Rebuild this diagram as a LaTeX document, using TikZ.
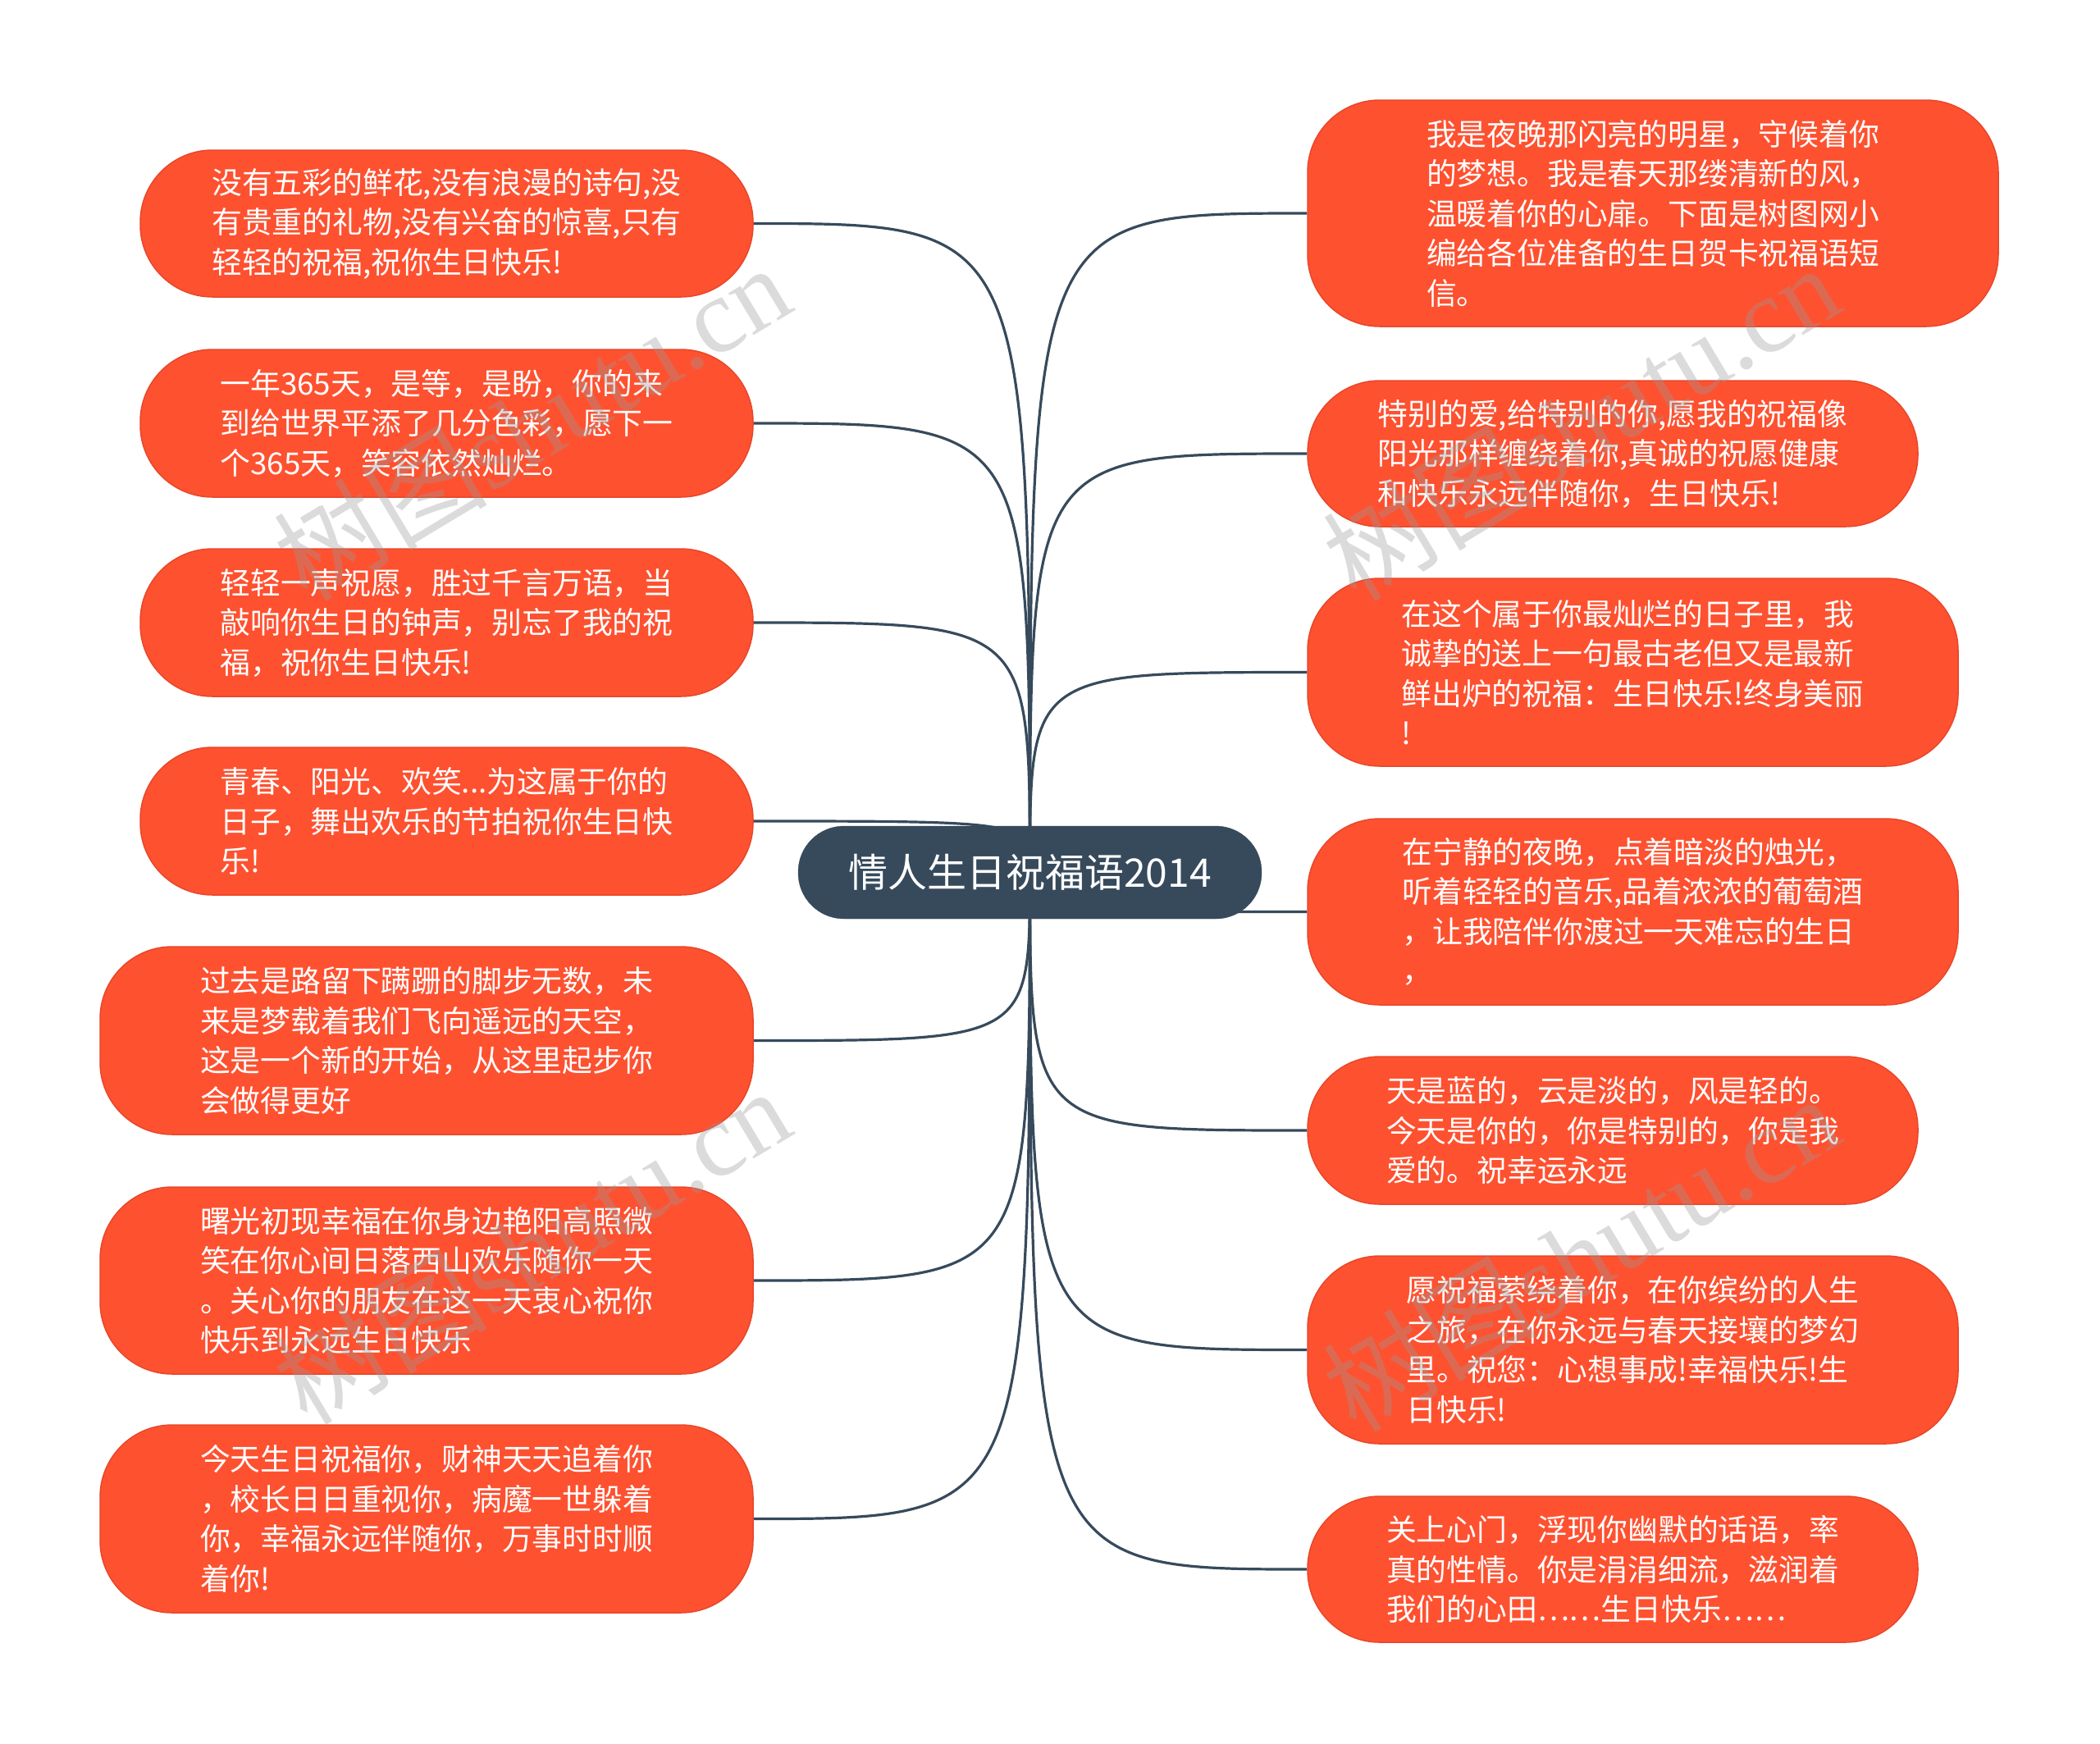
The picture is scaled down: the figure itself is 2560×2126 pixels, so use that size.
\documentclass[tikz,border=0pt]{standalone}
\usepackage{fontspec}
\setmainfont{Noto Sans CJK SC}
\newfontfamily\wmlatin{Liberation Serif}
\newfontfamily\wmcjk{Noto Sans CJK SC}
\usetikzlibrary{backgrounds}
\definecolor{boxred}{HTML}{FE5130}
\definecolor{boxedge}{HTML}{E8472A}
\definecolor{slate}{HTML}{374A5C}
\definecolor{wmgray}{HTML}{9A9A9A}
\begin{document}
\begin{tikzpicture}[x=1pt,y=-1pt,
  leaf/.style={draw=boxedge, line width=1.5pt, fill=boxred, rounded corners=88pt,
    text=white, font=\fontsize{36.8pt}{48.5pt}\selectfont, align=left, inner sep=0pt},
  rootbox/.style={draw=slate, fill=slate, rounded corners=56pt, text=white,
    font=\fontsize{48pt}{56pt}\selectfont, inner sep=0pt,
    minimum width=565pt, minimum height=113pt},
  conn/.style={draw=slate, line width=3.2pt},
  wmark/.style={text=wmgray, opacity=0.35, rotate=31, inner sep=0pt}]
\useasboundingbox (0,0) rectangle (2560,2126);

% root
\node[rootbox] (cen) at (1255.5,1063.5) {情人生日祝福语2014};

% left
\node[leaf, minimum width=747pt, minimum height=179pt] (L1) at (544.5,272.5)
  {没有五彩的鲜花,没有浪漫的诗句,没\\有贵重的礼物,没有兴奋的惊喜,只有\\轻轻的祝福,祝你生日快乐!};
\node[leaf, minimum width=747pt, minimum height=180pt] (L2) at (544.5,516)
  {一年365天，是等，是盼，你的来\\到给世界平添了几分色彩，愿下一\\个365天，笑容依然灿烂。};
\node[leaf, minimum width=747pt, minimum height=180pt] (L3) at (544.5,759)
  {轻轻一声祝愿，胜过千言万语，当\\敲响你生日的钟声，别忘了我的祝\\福，祝你生日快乐!};
\node[leaf, minimum width=747pt, minimum height=180pt] (L4) at (544.5,1001)
  {青春、阳光、欢笑...为这属于你的\\日子，舞出欢乐的节拍祝你生日快\\乐!};
\node[leaf, minimum width=796pt, minimum height=229pt] (L5) at (520,1268.5)
  {过去是路留下蹒跚的脚步无数，未\\来是梦载着我们飞向遥远的天空，\\这是一个新的开始，从这里起步你\\会做得更好};
\node[leaf, minimum width=796pt, minimum height=228pt] (L6) at (520,1561)
  {曙光初现幸福在你身边艳阳高照微\\笑在你心间日落西山欢乐随你一天\\。关心你的朋友在这一天衷心祝你\\快乐到永远生日快乐};
\node[leaf, minimum width=796pt, minimum height=229pt] (L7) at (520,1851.5)
  {今天生日祝福你，财神天天追着你\\，校长日日重视你，病魔一世躲着\\你，幸福永远伴随你，万事时时顺\\着你!};

% right
\node[leaf, minimum width=842pt, minimum height=276pt] (R1) at (2015,260)
  {我是夜晚那闪亮的明星，守候着你\\的梦想。我是春天那缕清新的风，\\温暖着你的心扉。下面是树图网小\\编给各位准备的生日贺卡祝福语短\\信。};
\node[leaf, minimum width=744pt, minimum height=178pt] (R2) at (1966,553)
  {特别的爱,给特别的你,愿我的祝福像\\阳光那样缠绕着你,真诚的祝愿健康\\和快乐永远伴随你，生日快乐!};
\node[leaf, minimum width=793pt, minimum height=229pt] (R3) at (1990.5,819.5)
  {在这个属于你最灿烂的日子里，我\\诚挚的送上一句最古老但又是最新\\鲜出炉的祝福：生日快乐!终身美丽\\!};
\node[leaf, minimum width=793pt, minimum height=227pt] (R4) at (1990.5,1111.5)
  {在宁静的夜晚，点着暗淡的烛光，\\听着轻轻的音乐,品着浓浓的葡萄酒\\，让我陪伴你渡过一天难忘的生日\\，};
\node[leaf, minimum width=744pt, minimum height=180pt] (R5) at (1966,1378)
  {天是蓝的，云是淡的，风是轻的。\\今天是你的，你是特别的，你是我\\爱的。祝幸运永远};
\node[leaf, minimum width=793pt, minimum height=229pt] (R6) at (1990.5,1645.5)
  {愿祝福萦绕着你，在你缤纷的人生\\之旅，在你永远与春天接壤的梦幻\\里。祝您：心想事成!幸福快乐!生\\日快乐!};
\node[leaf, minimum width=744pt, minimum height=178pt] (R7) at (1966,1913)
  {关上心门，浮现你幽默的话语，率\\真的性情。你是涓涓细流，滋润着\\我们的心田……生日快乐……};

\begin{scope}[on background layer]
  \fill[white] (0,0) rectangle (2560,2126);
  \foreach \n in {L1,L2,L3,L4,L5,L6,L7} {
    \draw[conn] (cen.center) .. controls (cen.center |- \n.east) and (cen.center |- \n.east) .. (\n.east);
  }
  \foreach \n in {R1,R2,R3,R4,R5,R6,R7} {
    \draw[conn] (cen.center) .. controls (cen.center |- \n.west) and (cen.center |- \n.west) .. (\n.west);
  }
\end{scope}

% watermarks
\node[wmark] (w1) at (648,514) {\fontsize{130pt}{130pt}\selectfont\wmcjk 树图\wmlatin shutu.cn};
\node[wmark] (w2) at (1927,514) {\fontsize{130pt}{130pt}\selectfont\wmcjk 树图\wmlatin shutu.cn};
\node[wmark] (w3) at (648,1518) {\fontsize{130pt}{130pt}\selectfont\wmcjk 树图\wmlatin shutu.cn};
\node[wmark] (w4) at (1927,1527) {\fontsize{130pt}{130pt}\selectfont\wmcjk 树图\wmlatin shutu.cn};
\end{tikzpicture}
\end{document}
